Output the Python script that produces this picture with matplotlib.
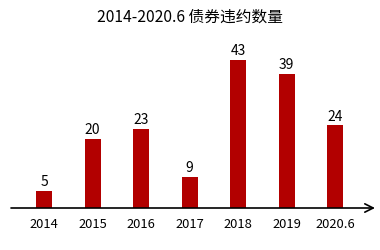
import matplotlib.pyplot as plt

plt.rcParams['font.family'] = ['Noto Sans CJK SC', 'DejaVu Sans']

years = ['2014', '2015', '2016', '2017', '2018', '2019', '2020.6']
counts = [5, 20, 23, 9, 43, 39, 24]

fig = plt.figure(figsize=(3.8, 2.5), dpi=100)
ax = fig.add_axes([11 / 380, 42 / 250, 364 / 380, 168 / 250])

x = range(len(years))
bars = ax.bar(x, counts, width=0.33, color='#b20000')
for b, v in zip(bars, counts):
    ax.text(b.get_x() + b.get_width() / 2, v + 0.5, str(v),
            ha='center', va='bottom', fontsize=10, color='black')

ax.set_xlim(-0.68, 6.82)
ax.set_ylim(0, 48.8)
ax.set_xticks(list(x))
ax.set_xticklabels(years, fontsize=9.3)
ax.tick_params(axis='x', length=0, pad=7)
ax.set_yticks([])
for s in ['top', 'right', 'left', 'bottom']:
    ax.spines[s].set_visible(False)

# axis with arrow head
ax.annotate('', xy=(1.0, 0), xytext=(0, 0), xycoords='axes fraction',
            arrowprops=dict(arrowstyle='->', color='black', lw=1.2,
                            shrinkA=0, shrinkB=0, mutation_scale=15))

fig.text(0.5, 1 - 17 / 250, '2014-2020.6 债券违约数量', ha='center', va='center',
         fontsize=11.3)

fig.savefig('out.png', dpi=100)
